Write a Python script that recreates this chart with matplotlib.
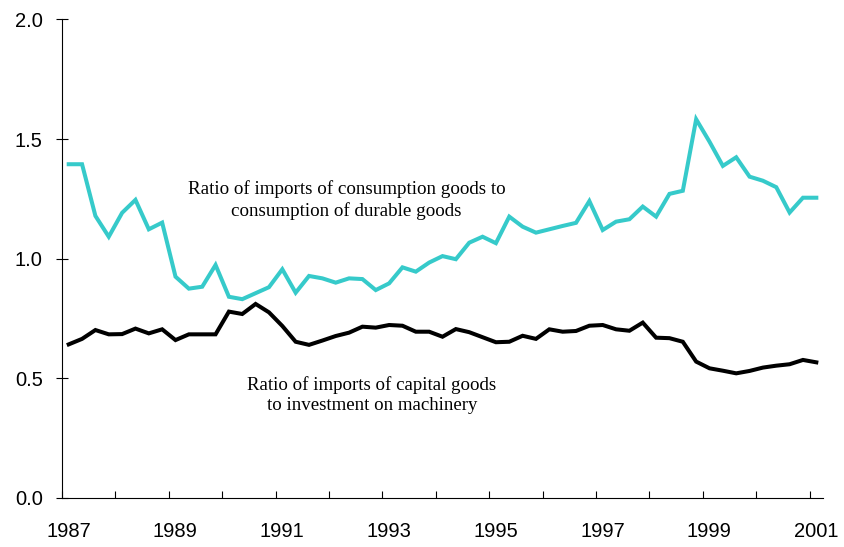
import numpy as np
import matplotlib
matplotlib.use("Agg")
import matplotlib.pyplot as plt
from matplotlib.transforms import ScaledTranslation

# quarterly data, 1987Q1 - 2001Q1
start_year = 1987
n_quarters = 57

consumption_ratio = [
    1.395, 1.395, 1.179, 1.092,
    1.192, 1.246, 1.123, 1.151,
    0.925, 0.875, 0.883, 0.974,
    0.841, 0.831, 0.856, 0.881,
    0.956, 0.858, 0.928, 0.918,
    0.900, 0.918, 0.915, 0.869,
    0.897, 0.964, 0.946, 0.984,
    1.011, 0.998, 1.067, 1.092,
    1.065, 1.176, 1.134, 1.109,
    1.123, 1.137, 1.150, 1.241,
    1.120, 1.155, 1.165, 1.218,
    1.176, 1.271, 1.284, 1.583,
    1.489, 1.388, 1.424, 1.343,
    1.326, 1.299, 1.193, 1.255,
    1.255,
]

capital_ratio = [
    0.642, 0.665, 0.702, 0.684,
    0.685, 0.708, 0.688, 0.705,
    0.660, 0.684, 0.684, 0.684,
    0.779, 0.769, 0.811, 0.776,
    0.719, 0.653, 0.640, 0.658,
    0.677, 0.691, 0.716, 0.712,
    0.723, 0.720, 0.695, 0.695,
    0.674, 0.706, 0.693, 0.672,
    0.651, 0.653, 0.678, 0.665,
    0.705, 0.695, 0.698, 0.720,
    0.723, 0.705, 0.699, 0.733,
    0.670, 0.668, 0.653, 0.570,
    0.542, 0.532, 0.521, 0.531,
    0.545, 0.553, 0.559, 0.577,
    0.567,
]

year_ticks = list(range(1987, 2002))
year_labels = [str(y) if (y - 1987) % 2 == 0 else "" for y in year_ticks]
y_ticks = [0.0, 0.5, 1.0, 1.5, 2.0]

# quarters plotted at their mid points
x = start_year + (np.arange(n_quarters) + 0.5) / 4

fig = plt.figure(figsize=(8.44, 5.47), dpi=100)
ax = fig.add_axes([0.0735, 0.0896, 0.9016, 0.8748])

ax.plot(x, consumption_ratio, color="#36CACA", lw=2.9, solid_joinstyle="miter")
ax.plot(x, capital_ratio, color="black", lw=2.9, solid_joinstyle="miter")

ax.set_xlim(1987, 2001.25)
ax.set_ylim(0, 2.0)

ax.spines["top"].set_visible(False)
ax.spines["right"].set_visible(False)
ax.spines["left"].set_linewidth(0.8)
ax.spines["bottom"].set_linewidth(0.8)

ax.set_xticks(year_ticks)
ax.set_xticklabels(year_labels, fontfamily="Liberation Sans", fontsize=14.5)
ax.set_yticks(y_ticks)
ax.set_yticklabels([f"{v:.1f}" for v in y_ticks], fontfamily="Liberation Sans", fontsize=14.5)
ax.tick_params(axis="x", direction="in", length=5, width=0.8, pad=17.5)
ax.tick_params(axis="y", direction="inout", length=8.6, width=0.8, pad=9.5)

# year labels sit a little right of their tick
offset = ScaledTranslation(6.5 / 100, 0, fig.dpi_scale_trans)
for lab in ax.get_xticklabels():
    lab.set_transform(lab.get_transform() + offset)

ax.text(1992.33, 1.246, "Ratio of imports of consumption goods to\nconsumption of durable goods",
        ha="center", va="center", fontfamily="Liberation Serif", fontsize=13.7, linespacing=1.3)
ax.text(1992.80, 0.430, "Ratio of imports of capital goods\nto investment on machinery",
        ha="center", va="center", fontfamily="Liberation Serif", fontsize=13.6, linespacing=1.2)

fig.savefig("out.png", dpi=100)
